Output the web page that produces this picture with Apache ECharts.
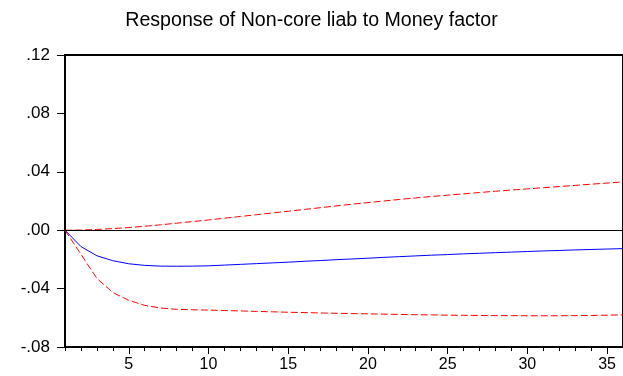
<!DOCTYPE html>
<html>
<head>
<meta charset="utf-8">
<script src="https://cdn.jsdelivr.net/npm/echarts@6/dist/echarts.min.js"></script>
<style>
  html, body { margin: 0; padding: 0; background: #fff; }
  #chart { width: 623px; height: 376px; }
</style>
</head>
<body>
<div id="chart"></div>
<script>
// periods 1..36
const periods = [];
for (let i = 1; i <= 36; i++) periods.push(String(i));

// response (blue)
const response = [
  0, -0.0112, -0.0175, -0.0209, -0.0230, -0.0241, -0.0246, -0.0247, -0.0246, -0.0244,
  -0.0239, -0.0234, -0.0229, -0.0224, -0.0219, -0.0213, -0.0208, -0.0202, -0.0197, -0.0192,
  -0.0186, -0.0181, -0.0176, -0.0171, -0.0167, -0.0162, -0.0158, -0.0154, -0.0150, -0.0146,
  -0.0142, -0.0139, -0.0135, -0.0132, -0.0129, -0.0126,
];
// +/- 2 S.E. bands (red dashed)
const upperBand = [
  0, 0.0001, 0.0005, 0.0011, 0.0018, 0.0027, 0.0037, 0.0048, 0.0059, 0.0070,
  0.0082, 0.0094, 0.0106, 0.0118, 0.0130, 0.0142, 0.0154, 0.0166, 0.0178, 0.0189,
  0.0200, 0.0211, 0.0221, 0.0231, 0.0240, 0.0249, 0.0258, 0.0267, 0.0275, 0.0283,
  0.0291, 0.0299, 0.0307, 0.0315, 0.0323, 0.0331,
];
const lowerBand = [
  0, -0.0165, -0.0330, -0.0427, -0.0480, -0.0515, -0.0533, -0.0542, -0.0545, -0.0547,
  -0.0550, -0.0553, -0.0556, -0.0559, -0.0562, -0.0564, -0.0567, -0.0569, -0.0571, -0.0573,
  -0.0575, -0.0577, -0.0579, -0.0580, -0.0582, -0.0583, -0.0584, -0.0585, -0.0585, -0.0586,
  -0.0586, -0.0586, -0.0585, -0.0584, -0.0582, -0.0580,
];
const yTicks = [-0.08, -0.04, 0, 0.04, 0.08, 0.12];

const font = 'Liberation Sans, Arial, sans-serif';
const myChart = echarts.init(document.getElementById('chart'));

const fmt = (v) => {
  // .12 / -.04 style labels
  const s = Math.abs(v).toFixed(2).replace(/^0/, '');
  return v < -1e-9 ? '-' + s : s;
};
const isMajor = (idx) => (idx + 1) % 5 === 0;

const dashed = (data) => ({
  type: 'line',
  data,
  symbol: 'none',
  silent: true,
  lineStyle: { color: '#ff0000', width: 1, type: [7, 3] },
});

myChart.setOption({
  animation: false,
  title: {
    text: 'Response of Non-core liab to Money factor',
    left: 'center',
    top: 6,
    textStyle: { color: '#000', fontFamily: font, fontSize: 19.6, fontWeight: 'normal' },
  },
  grid: {
    left: 65,
    top: 55,
    bottom: 29,
    width: 560,
    show: true,
    borderColor: '#000',
    borderWidth: 2,
  },
  xAxis: [
    {
      // minor ticks, every period
      type: 'category',
      data: periods,
      boundaryGap: false,
      position: 'bottom',
      axisLine: { onZero: false, lineStyle: { color: '#000', width: 2 } },
      axisTick: { show: true, interval: 0, length: 4, lineStyle: { color: '#000', width: 1 } },
      axisLabel: { show: false },
      splitLine: { show: false },
    },
    {
      // major ticks + labels
      type: 'category',
      data: periods,
      boundaryGap: false,
      position: 'bottom',
      axisLine: { show: false, onZero: false },
      axisTick: { show: true, interval: isMajor, length: 7, lineStyle: { color: '#000', width: 1 } },
      axisLabel: {
        interval: isMajor,
        color: '#000',
        fontFamily: font,
        fontSize: 16,
        margin: 10,
      },
      splitLine: { show: false },
    },
  ],
  yAxis: {
    type: 'value',
    min: yTicks[0],
    max: yTicks[yTicks.length - 1],
    interval: 0.04,
    axisLine: { show: true, onZero: false, lineStyle: { color: '#000', width: 2 } },
    axisTick: { show: true, length: 8, lineStyle: { color: '#000', width: 1 } },
    axisLabel: { color: '#000', fontFamily: font, fontSize: 17, margin: 15, formatter: fmt },
    splitLine: { show: false },
  },
  series: [
    {
      type: 'line',
      data: response,
      symbol: 'none',
      silent: true,
      lineStyle: { color: '#0000ff', width: 1 },
      markLine: {
        silent: true,
        symbol: 'none',
        label: { show: false },
        lineStyle: { color: '#000', width: 1, type: 'solid' },
        data: [{ yAxis: 0 }],
      },
    },
    dashed(upperBand),
    dashed(lowerBand),
  ],
});
</script>
</body>
</html>
